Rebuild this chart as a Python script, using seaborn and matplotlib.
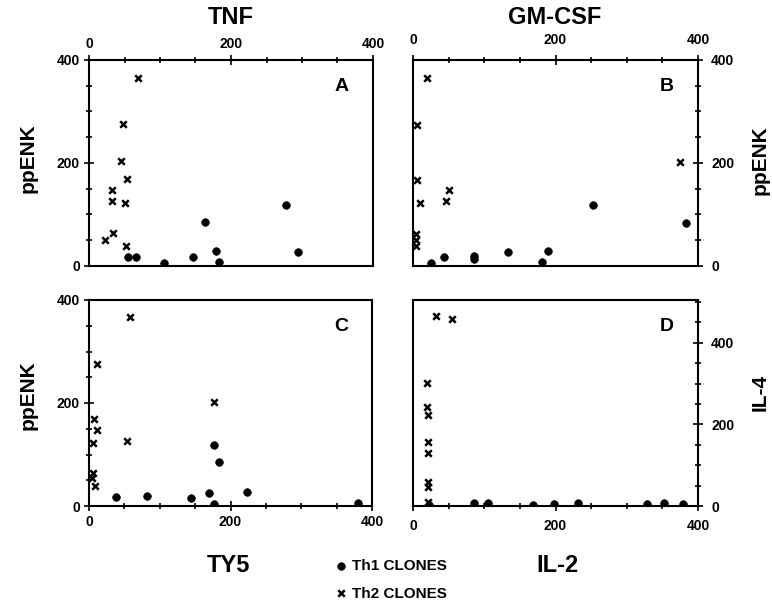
import numpy as np
import pandas as pd
import seaborn as sns
import matplotlib.pyplot as plt
from matplotlib.ticker import MultipleLocator

# values
# panel A: TNF vs ppENK
a_th1_x = [55, 66, 105, 147, 164, 179, 183, 278, 295]
a_th1_y = [18, 18, 5, 18, 85, 30, 7, 118, 27]
a_th2_x = [69, 48, 45, 53, 33, 33, 50, 34, 22, 52]
a_th2_y = [366, 275, 204, 169, 148, 127, 122, 64, 50, 39]

# panel B: GM-CSF vs ppENK
b_th1_x = [252, 383, 25, 44, 86, 86, 133, 181, 190]
b_th1_y = [118, 84, 5, 17, 20, 14, 27, 7, 30]
b_th2_x = [19, 5, 5, 50, 375, 10, 46, 4, 4, 4]
b_th2_y = [366, 274, 167, 148, 202, 122, 126, 62, 50, 38]

# panel C: TY5 vs ppENK
c_th1_x = [177, 184, 38, 82, 144, 170, 224, 177, 380]
c_th1_y = [118, 85, 17, 19, 16, 26, 28, 4, 6]
c_th2_x = [58, 12, 177, 7, 12, 5, 54, 6, 4, 8]
c_th2_y = [367, 275, 202, 168, 148, 122, 127, 65, 54, 39]

# panel D: IL-2 vs IL-4
d_th1_x = [23, 85, 105, 169, 198, 231, 329, 352, 379]
d_th1_y = [2, 8, 8, 2, 6, 8, 6, 7, 6]
d_th2_x = [32, 55, 20, 20, 21, 21, 21, 21, 21, 21]
d_th2_y = [465, 458, 301, 243, 223, 158, 129, 60, 46, 11]

rows = []
for panel, clone, xs, ys in [
    ('A', 'Th1', a_th1_x, a_th1_y), ('A', 'Th2', a_th2_x, a_th2_y),
    ('B', 'Th1', b_th1_x, b_th1_y), ('B', 'Th2', b_th2_x, b_th2_y),
    ('C', 'Th1', c_th1_x, c_th1_y), ('C', 'Th2', c_th2_x, c_th2_y),
    ('D', 'Th1', d_th1_x, d_th1_y), ('D', 'Th2', d_th2_x, d_th2_y),
]:
    for x, y in zip(xs, ys):
        rows.append({'panel': panel, 'clone': clone, 'x': x, 'y': y})
df = pd.DataFrame(rows)

sns.set_style('ticks')
plt.rcParams['font.family'] = ['Liberation Sans', 'DejaVu Sans']
plt.rcParams['font.weight'] = 'bold'
for key in ['text.color', 'axes.labelcolor', 'xtick.color', 'ytick.color', 'axes.edgecolor']:
    plt.rcParams[key] = 'black'

W, H = 772, 604
fig = plt.figure(figsize=(W / 100, H / 100), dpi=100)

def box(left, top, width, height):
    return [left / W, 1 - (top + height) / H, width / W, height / H]

axes = {
    'A': fig.add_axes(box(89, 60, 284, 206)),
    'B': fig.add_axes(box(413, 60, 285, 206)),
    'C': fig.add_axes(box(89, 300, 283, 206)),
    'D': fig.add_axes(box(413, 300, 285, 206)),
}

for p, ax in axes.items():
    sub = df[df.panel == p]
    sns.scatterplot(data=sub[sub.clone == 'Th1'], x='x', y='y', ax=ax,
                    marker='o', color='black', s=30, edgecolor='black',
                    linewidth=0.5, label='Th1 CLONES', legend=False)
    sns.scatterplot(data=sub[sub.clone == 'Th2'], x='x', y='y', ax=ax,
                    marker='x', color='black', s=22, linewidth=1.8,
                    label='Th2 CLONES', legend=False)
    ax.set_xlim(0, 400)
    ax.set_ylim(0, 505 if p == 'D' else 400)
    ax.set_xticks([0, 200, 400])
    ax.set_yticks([0, 200, 400])
    ax.xaxis.set_minor_locator(MultipleLocator(50))
    ax.yaxis.set_minor_locator(MultipleLocator(50))
    ax.set_xlabel('')
    ax.set_ylabel('')
    for s in ax.spines.values():
        s.set_linewidth(1.5)
        s.set_color('black')
    ax.tick_params(which='both', direction='inout', width=1.2, labelsize=10,
                   colors='black',
                   top=False, bottom=False, left=False, right=False,
                   labeltop=False, labelbottom=False, labelleft=False, labelright=False)
    ax.tick_params(which='major', length=7)
    ax.tick_params(which='minor', length=5)
    if p in 'AB':
        ax.tick_params(which='both', top=True, labeltop=True, pad=2)
    else:
        ax.tick_params(which='both', bottom=True, labelbottom=True, pad=4)
    if p in 'AC':
        ax.tick_params(which='both', left=True, labelleft=True, pad=3)
    else:
        ax.tick_params(which='both', right=True, labelright=True, pad=6)
    for lab in ax.get_xticklabels() + ax.get_yticklabels():
        lab.set_fontweight('bold')
    ax.text(0.89, 0.87, p, transform=ax.transAxes, fontsize=14,
            fontweight='bold', ha='center', va='center', color='black')

def label(x, y, s, size, rot=0):
    fig.text(x / W, 1 - y / H, s, fontsize=size, fontweight='bold',
             ha='center', va='center', rotation=rot, color='black')

label(231, 18, 'TNF', 17)
label(555, 18, 'GM-CSF', 17)
label(28, 158, 'ppENK', 15, 90)
label(28, 395, 'ppENK', 15, 90)
label(760, 160, 'ppENK', 15, 90)
label(760, 392, 'IL-4', 15, 90)
label(228, 565, 'TY5', 17)
label(557, 565, 'IL-2', 17)

handles, labels = axes['A'].get_legend_handles_labels()
fig.legend(handles, labels, loc='upper left',
           bbox_to_anchor=(318 / W, 1 - 545 / H), frameon=False,
           handletextpad=0.1, labelspacing=0.9, handlelength=1.2,
           prop={'weight': 'bold', 'size': 11}, labelcolor='black')

fig.savefig('out.png', dpi=100)
